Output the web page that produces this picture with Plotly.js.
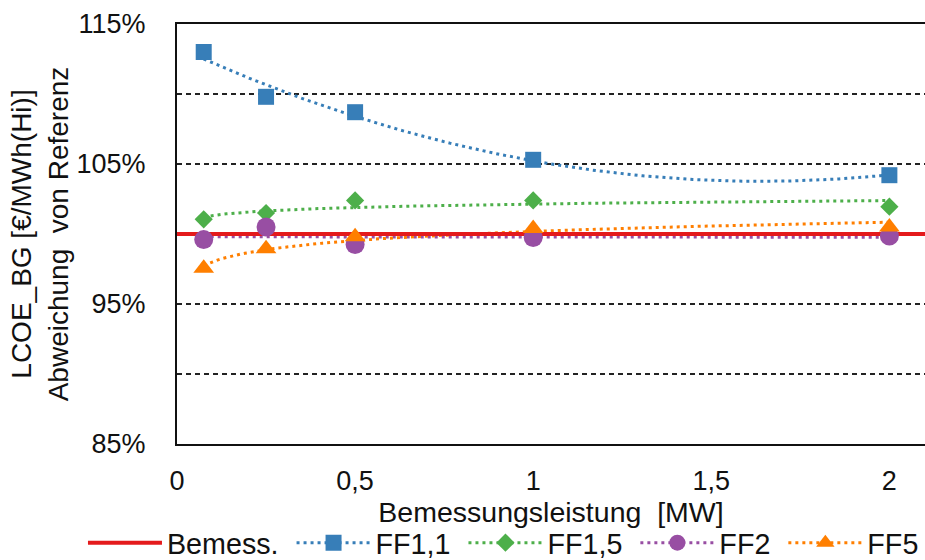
<!DOCTYPE html>
<html><head><meta charset="utf-8">
<script src="https://cdn.plot.ly/plotly-3.0.1.min.js"></script>
<style>html,body{margin:0;padding:0;background:#fff}#chart{width:925px;height:560px}</style>
</head><body><div id="chart"></div>
<script>
// ---- data ----
const leistungMW = [0.075, 0.25, 0.5, 1, 2];
const ff11 = [113.0, 109.8, 108.7, 105.3, 104.2];
const ff15 = [101.05, 101.5, 102.4, 102.4, 101.95];
const ff2  = [99.6, 100.5, 99.25, 99.75, 99.85];
const ff5  = [97.55, 98.95, 99.8, 100.4, 100.5];
const bemessX = [0, 2.1];
const bemessY = [100, 100];
const bemessName = 'Bemess.';
const seriesNames = ['FF1,1', 'FF1,5', 'FF2', 'FF5'];
const trendTypes = ['poly2', 'log', 'log', 'log'];
const xTickVals = [0, 0.5, 1, 1.5, 2];
const xTickText = ['0', '0,5', '1', '1,5', '2'];
const yTickVals = [85, 95, 105, 115];
const yTickText = ['85%', '95%', '105%', '115%'];

// ---- styles ----
const colors = ['#377EB8', '#4DAF4A', '#984EA3', '#FF7F00'];
const symbols = ['square', 'diamond', 'circle', 'triangle-up'];
const sizes = [16, 14, 19, 18];
const FONT = '"Liberation Sans", Arial, sans-serif';
const FS = 27;
const pad = s => s + '\u00a0';

// ---- trendline fits (least squares, like spreadsheet trendlines) ----
function solve3(A, b) {
  const M = A.map((r, i) => r.concat([b[i]]));
  for (let i = 0; i < 3; i++) {
    let p = i;
    for (let k = i + 1; k < 3; k++) if (Math.abs(M[k][i]) > Math.abs(M[p][i])) p = k;
    [M[i], M[p]] = [M[p], M[i]];
    for (let k = i + 1; k < 3; k++) {
      const f = M[k][i] / M[i][i];
      for (let j = i; j < 4; j++) M[k][j] -= f * M[i][j];
    }
  }
  const x = [0, 0, 0];
  for (let i = 2; i >= 0; i--) {
    let s = M[i][3];
    for (let j = i + 1; j < 3; j++) s -= M[i][j] * x[j];
    x[i] = s / M[i][i];
  }
  return x;
}
function fitPoly2(xs, ys) {
  const S = k => xs.reduce((a, x) => a + Math.pow(x, k), 0);
  const T = k => xs.reduce((a, x, i) => a + Math.pow(x, k) * ys[i], 0);
  const c = solve3([[S(0), S(1), S(2)], [S(1), S(2), S(3)], [S(2), S(3), S(4)]], [T(0), T(1), T(2)]);
  return x => c[0] + c[1] * x + c[2] * x * x;
}
function fitLog(xs, ys) {
  const lx = xs.map(Math.log);
  const n = xs.length;
  const mx = lx.reduce((a, v) => a + v, 0) / n;
  const my = ys.reduce((a, v) => a + v, 0) / n;
  let sxy = 0, sxx = 0;
  lx.forEach((v, i) => { sxy += (v - mx) * (ys[i] - my); sxx += (v - mx) * (v - mx); });
  const b = sxy / sxx, a = my - b * mx;
  return x => a + b * Math.log(x);
}

const seriesData = [ff11, ff15, ff2, ff5];
const xMin = Math.min(...leistungMW), xMax = Math.max(...leistungMW);
const nSamp = 150;
const trendX = [];
for (let i = 0; i <= nSamp; i++) trendX.push(xMin + (xMax - xMin) * i / nSamp);

const traces = [];
// trendlines
seriesData.forEach((ys, i) => {
  const f = trendTypes[i] === 'poly2' ? fitPoly2(leistungMW, ys) : fitLog(leistungMW, ys);
  traces.push({
    x: trendX, y: trendX.map(f), mode: 'lines', showlegend: false, hoverinfo: 'skip',
    legendgroup: seriesNames[i],
    line: {color: colors[i], width: 3, dash: '3px,4px'}
  });
});
// reference line
traces.push({
  x: bemessX, y: bemessY, mode: 'lines', name: pad(bemessName),
  line: {color: '#E41A1C', width: 4}
});
// data markers (gaps between points so only the markers show, legend keeps the dotted line)
const gapped = arr => arr.flatMap((v, i) => i ? [null, v] : [v]);
seriesData.forEach((ys, i) => {
  traces.push({
    x: gapped(leistungMW), y: gapped(ys), mode: 'lines+markers', connectgaps: false,
    name: pad(seriesNames[i]), legendgroup: seriesNames[i],
    line: {color: colors[i], width: 3, dash: '3px,4px'},
    marker: {symbol: symbols[i], size: sizes[i], color: colors[i]}
  });
});

const layout = {
  width: 925, height: 560,
  margin: {l: 177, r: 0, t: 24, b: 116, autoexpand: false},
  paper_bgcolor: '#fff', plot_bgcolor: '#fff',
  font: {family: FONT, size: FS, color: '#111'},
  showlegend: true,
  legend: {
    orientation: 'h',
    x: -0.1257, xanchor: 'left', y: -0.2357, yanchor: 'middle',
    font: {family: FONT, size: 28.7, color: '#111'}, itemwidth: 74, bgcolor: 'rgba(0,0,0,0)'
  },
  xaxis: {
    range: [0, 2.1], tickvals: xTickVals, ticktext: xTickText,
    showline: true, linecolor: '#111', linewidth: 2, mirror: true,
    showgrid: false, zeroline: false, ticks: '', ticklabelstandoff: 12,
    title: {text: 'Bemessungsleistung\u00a0 [MW]', font: {family: FONT, size: 28.5, color: '#111'}, standoff: 0.01}
  },
  yaxis: {
    range: [85, 115], tickvals: yTickVals, ticktext: yTickText,
    showline: true, linecolor: '#111', linewidth: 2, mirror: false,
    showgrid: true, gridcolor: '#222', gridwidth: 1.3, griddash: '5px,4px',
    minor: {dtick: 10, tick0: 90, showgrid: true, gridcolor: '#222', gridwidth: 1.3, griddash: '5px,4px'},
    zeroline: false, ticks: '', ticklabelstandoff: 24,
    title: {text: 'LCOE_BG [€/MWh(Hi)]<br>Abweichung\u00a0 von Referenz', font: {family: FONT, size: 28, color: '#111'}, standoff: 0}
  }
};

Plotly.newPlot('chart', traces, layout, {displayModeBar: false, staticPlot: true});
</script>
</body></html>
